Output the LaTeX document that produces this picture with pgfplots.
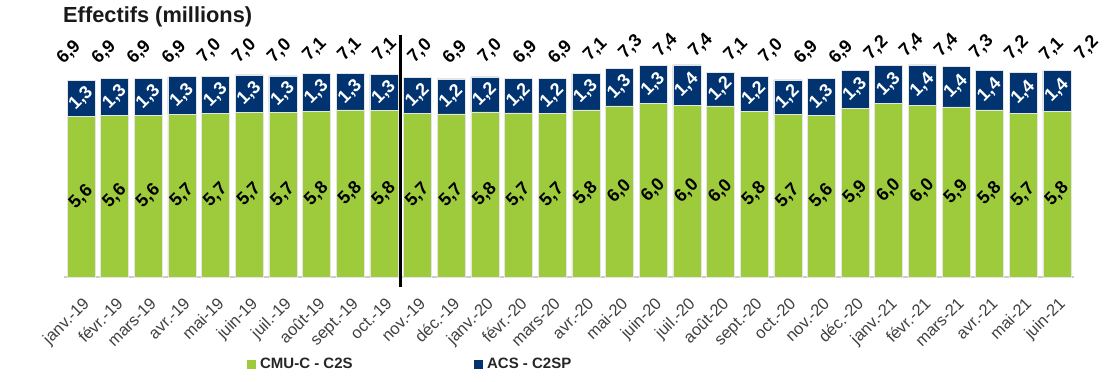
\documentclass[border=0pt]{standalone}
\usepackage{pgfplots}
\pgfplotsset{compat=1.18}
\usepackage{pgfplotstable}
\usepackage{fontspec}
\setmainfont{Liberation Sans}
\definecolor{cgreen}{RGB}{157,203,59}
\definecolor{cnavy}{RGB}{0,51,112}
\definecolor{ctick}{RGB}{64,64,64}

\pgfplotstableread{
x g n gl nl tl
0 5.59 1.25 5.6 1.3 6.9
1 5.64 1.28 5.6 1.3 6.9
2 5.64 1.28 5.6 1.3 6.9
3 5.67 1.31 5.7 1.3 6.9
4 5.70 1.29 5.7 1.3 7.0
5 5.74 1.30 5.7 1.3 7.0
6 5.73 1.28 5.7 1.3 7.0
7 5.78 1.32 5.8 1.3 7.1
8 5.82 1.27 5.8 1.3 7.1
9 5.80 1.27 5.8 1.3 7.1
10 5.71 1.24 5.7 1.2 7.0
11 5.68 1.22 5.7 1.2 6.9
12 5.75 1.22 5.8 1.2 7.0
13 5.72 1.20 5.7 1.2 6.9
14 5.70 1.21 5.7 1.2 6.9
15 5.82 1.28 5.8 1.3 7.1
16 5.96 1.31 6.0 1.3 7.3
17 6.04 1.34 6.0 1.3 7.4
18 5.99 1.40 6.0 1.4 7.4
19 5.96 1.18 6.0 1.2 7.1
20 5.78 1.22 5.8 1.2 7.0
21 5.66 1.21 5.7 1.2 6.9
22 5.64 1.28 5.6 1.3 6.9
23 5.88 1.32 5.9 1.3 7.2
24 6.04 1.34 6.0 1.3 7.4
25 5.99 1.40 6.0 1.4 7.4
26 5.93 1.41 5.9 1.4 7.3
27 5.82 1.39 5.8 1.4 7.2
28 5.71 1.42 5.7 1.4 7.1
29 5.78 1.42 5.8 1.4 7.2
}\data

\begin{document}
\begin{tikzpicture}
\path[use as bounding box] (0pt,0pt) rectangle (1111pt,381pt);
\node[anchor=base west, inner sep=0pt, font=\fontsize{21.8}{24}\selectfont\bfseries, text=black!90] at (63pt,358pt) {Effectifs (millions)};
\begin{axis}[
  at={(64.2pt,104pt)}, anchor=south west, scale only axis,
  width=1009.6pt, height=229.6pt,
  xmin=-0.5, xmax=29.5, ymin=0, ymax=8,
  ybar stacked, bar width=28pt,
  axis y line=none, axis x line*=bottom,
  x axis line style={-, draw=black!20, line width=1.2pt},
  xtick={0,...,29},
  xticklabels={janv.-19,févr.-19,mars-19,avr.-19,mai-19,juin-19,juil.-19,août-19,sept.-19,oct.-19,nov.-19,déc.-19,janv.-20,févr.-20,mars-20,avr.-20,mai-20,juin-20,juil.-20,août-20,sept.-20,oct.-20,nov.-20,déc.-20,janv.-21,févr.-21,mars-21,avr.-21,mai-21,juin-21},
  major tick length=0pt,
  xticklabel style={rotate=45, anchor=north east, inner sep=0pt, xshift=-13pt, yshift=-14pt,
    font=\fontsize{16.5}{17}\selectfont, text=ctick},
  clip=false,
  legend columns=2,
  legend style={at={(axis description cs:0.3425,-0.379)}, anchor=center, draw=none, fill=none,
    font=\fontsize{15}{18}\selectfont\bfseries, text=black!85,
    /tikz/every even column/.append style={column sep=119pt}},
]
\addplot[fill=cgreen, draw=black!10, line width=0.5pt,
  legend image code/.code={\fill[cgreen] (0pt,-4pt) rectangle (8pt,4pt);}] table[x=x,y=g]{\data};
\addplot[fill=cnavy, draw=black!10, line width=0.5pt,
  legend image code/.code={\fill[cnavy] (0pt,-4pt) rectangle (8pt,4pt);}] table[x=x,y=n]{\data};
\legend{\hspace{3pt}CMU-C - C2S, \hspace{3pt}ACS - C2SP}
\draw[black, line width=3pt] (axis cs:9.5,-0.35) -- (axis cs:9.5,8.43);
\end{axis}

\begin{axis}[
  at={(64.2pt,104pt)}, anchor=south west, scale only axis,
  width=1009.6pt, height=229.6pt,
  xmin=-0.5, xmax=29.5, ymin=0, ymax=8,
  hide axis, clip=false,
  point meta=explicit,
  nodes near coords,
  every node near coord/.append style={anchor=center, rotate=45, inner sep=0pt,
    font=\fontsize{18}{18}\selectfont\bfseries},
  /pgf/number format/.cd, use comma, fixed, fixed zerofill, precision=1, assume math mode=true,
]
\addplot[draw=none, mark=none, nodes near coords, every node near coord/.append style={text=black}]
  table[x=x, y expr=\thisrow{g}/2, meta=gl]{\data};
\addplot[draw=none, mark=none, nodes near coords, every node near coord/.append style={text=white}]
  table[x=x, y expr=\thisrow{g}+\thisrow{n}/2, meta=nl]{\data};
\end{axis}

\begin{axis}[
  at={(69pt,323pt)}, anchor=south west, scale only axis,
  width=1018pt, height=14pt,
  xmin=0, xmax=29, ymin=6.5, ymax=7.5,
  hide axis, clip=false,
  point meta=explicit,
  nodes near coords,
  every node near coord/.append style={anchor=center, rotate=45, inner sep=0pt,
    font=\fontsize{18}{18}\selectfont\bfseries, text=black},
  /pgf/number format/.cd, use comma, fixed, fixed zerofill, precision=1, assume math mode=true,
]
\addplot[draw=none, mark=none, nodes near coords] table[x=x, y=tl, meta=tl]{\data};
\end{axis}
\end{tikzpicture}
\end{document}
